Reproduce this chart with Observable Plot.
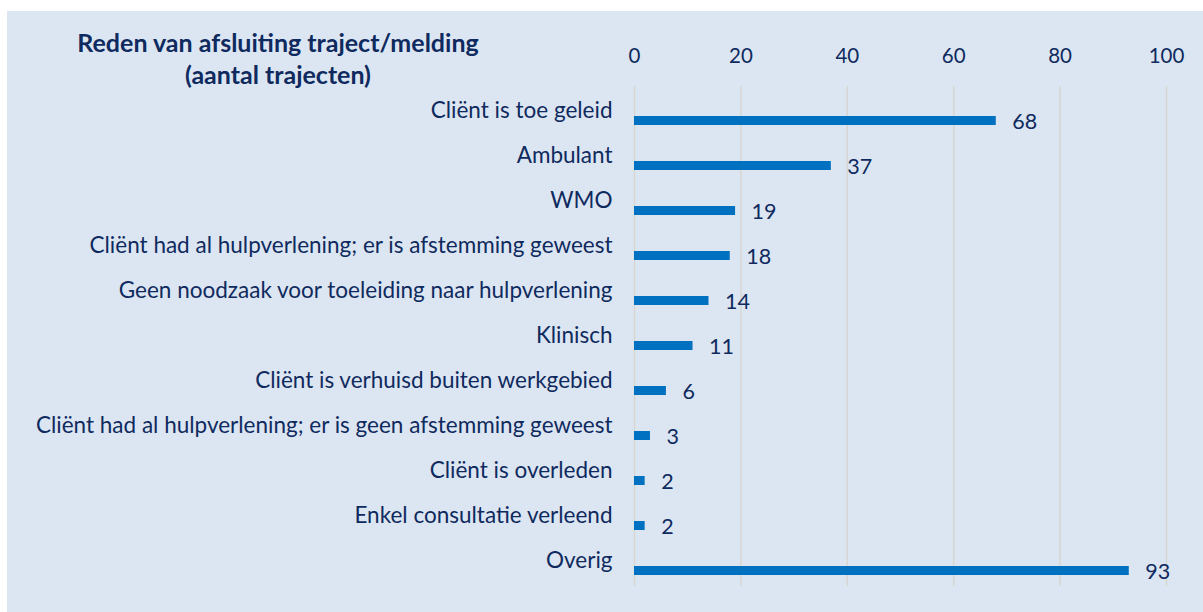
<!DOCTYPE html>
<html>
<head>
<meta charset="utf-8">
<script src="https://cdn.jsdelivr.net/npm/d3@7"></script>
<script src="https://cdn.jsdelivr.net/npm/@observablehq/plot@0.6"></script>
<style>
  html, body { margin: 0; padding: 0; background: #ffffff; }
  #panel { position: absolute; left: 7px; top: 11px; width: 1196px; height: 601px; background: #dce6f2; overflow: hidden; }
  #title { position: absolute; left: 0; top: 15px; width: 542px; text-align: center; font-family: Lato, sans-serif; font-weight: bold; font-size: 25px; line-height: 32px; color: #0f2a5e; }
  #chart { position: absolute; left: 0; top: 0; }
</style>
</head>
<body>
<div id="panel">
  <div id="chart"></div>
  <div id="title">Reden van afsluiting traject/melding<br>(aantal trajecten)</div>
</div>
<script>
const categories = [
  "Cliënt is toe geleid",
  "Ambulant",
  "WMO",
  "Cliënt had al hulpverlening; er is afstemming geweest",
  "Geen noodzaak voor toeleiding naar hulpverlening",
  "Klinisch",
  "Cliënt is verhuisd buiten werkgebied",
  "Cliënt had al hulpverlening; er is geen afstemming geweest",
  "Cliënt is overleden",
  "Enkel consultatie verleend",
  "Overig"
];
const values = [68, 37, 19, 18, 14, 11, 6, 3, 2, 2, 93];
const xTicks = [0, 20, 40, 60, 80, 100];

const data = categories.map((c, i) => ({category: c, value: values[i]}));
const textColor = "#0f2a5e";

const chart = Plot.plot({
  width: 1196,
  height: 601,
  marginLeft: 627,
  marginRight: 37,
  marginTop: 84,
  marginBottom: 17,
  style: {background: "transparent", fontFamily: "Lato, sans-serif", color: textColor},
  x: {domain: [0, 100], axis: null},
  y: {domain: categories, padding: 0, axis: null},
  marks: [
    Plot.ruleX(xTicks, {x: d => d, stroke: "#d8d6d2", strokeWidth: 1.5, insetTop: -9, insetBottom: 9}),
    Plot.axisX(xTicks, {anchor: "top", label: null, tickSize: 0, tickPadding: 33, fontSize: 20.5, fill: textColor}),
    Plot.axisY({anchor: "left", label: null, tickSize: 0, tickPadding: 22, fontSize: 22.5, fill: textColor, dy: -10}),
    Plot.barX(data, {x: "value", y: "category", fill: "#0070c0", insetTop: 18, insetBottom: 18}),
    Plot.text(data, {x: "value", y: "category", text: d => String(d.value), textAnchor: "start", dx: 16, dy: 1, fontSize: 21.5, fill: textColor})
  ]
});
document.getElementById("chart").appendChild(chart);
</script>
</body>
</html>
